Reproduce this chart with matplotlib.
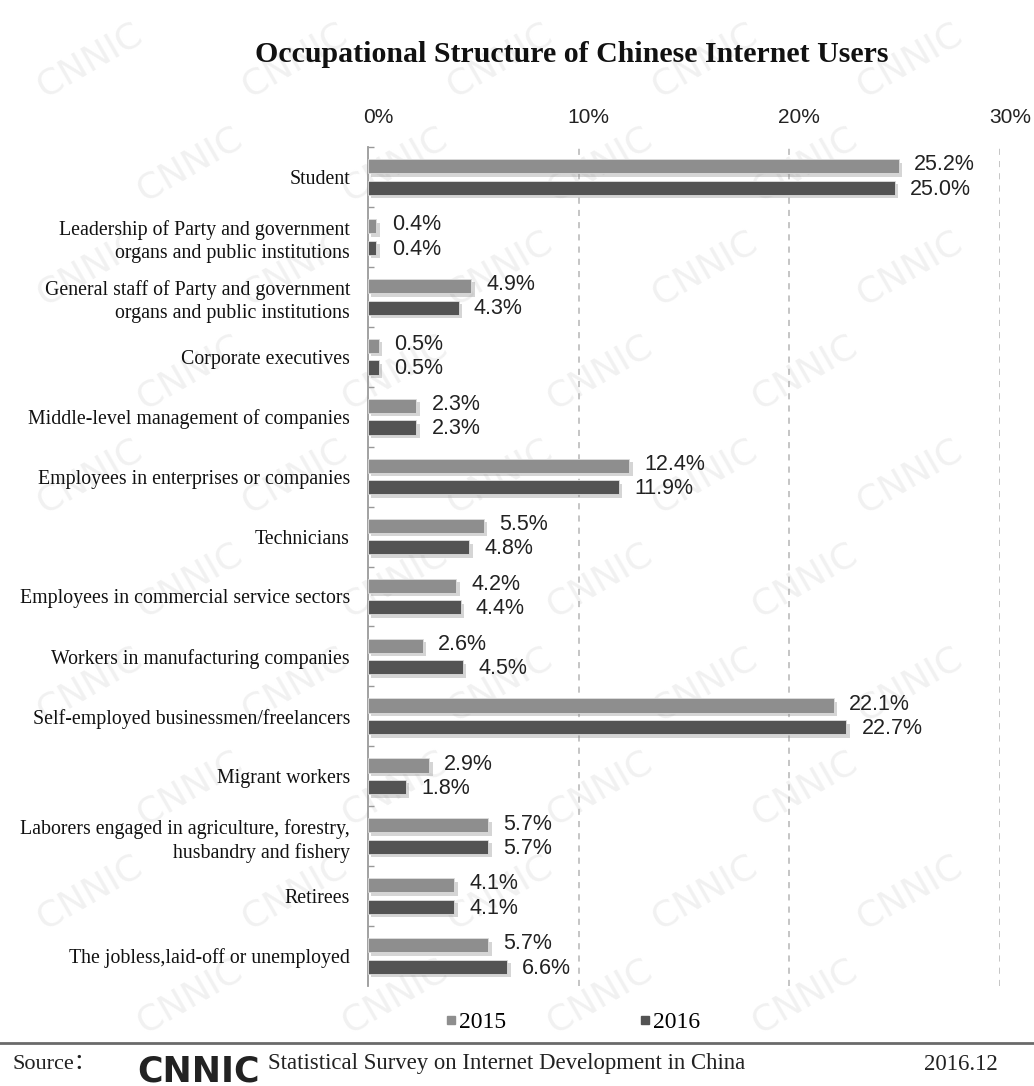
import matplotlib
matplotlib.use('Agg')
from matplotlib import pyplot as plt
from matplotlib import patheffects as pe
from matplotlib import transforms
from matplotlib.lines import Line2D

categories = [
    'Student',
    'Leadership of Party and government\norgans and public institutions',
    'General staff of Party and government\norgans and public institutions',
    'Corporate executives',
    'Middle-level management of companies',
    'Employees in enterprises or companies',
    'Technicians',
    'Employees in commercial service sectors',
    'Workers in manufacturing companies',
    'Self-employed businessmen/freelancers',
    'Migrant workers',
    'Laborers engaged in agriculture, forestry,\nhusbandry and fishery',
    'Retirees',
    'The jobless,laid-off or unemployed',
]
share_2015 = [25.2, 0.4, 4.9, 0.5, 2.3, 12.4, 5.5, 4.2, 2.6, 22.1, 2.9, 5.7, 4.1, 5.7]
share_2016 = [25.0, 0.4, 4.3, 0.5, 2.3, 11.9, 4.8, 4.4, 4.5, 22.7, 1.8, 5.7, 4.1, 6.6]
x_ticks = [0, 10, 20, 30]
x_tick_labels = ['0%', '10%', '20%', '30%']
years = ['2015', '2016']

COL_2015 = '#8e8e8e'
COL_2016 = '#535353'
SERIF = ['Liberation Serif', 'Noto Sans CJK SC']
SANS = 'Liberation Sans'

W, H = 1034, 1086
fig = plt.figure(figsize=(W / 100, H / 100), dpi=100)
fig.patch.set_facecolor('white')

# faint repeated CNNIC stamp behind everything
for row in range(10):
    for col in range(5):
        px = 90 + col * 205 + (row % 2) * 100
        py = 60 + row * 104
        if px > 960:
            continue
        fig.text(px / W, 1 - py / H, 'CNNIC', rotation=30, fontsize=26,
                 family='DejaVu Sans', color='#f1f1f1',
                 ha='center', va='center', zorder=-5)

ax = fig.add_axes([368 / W, 1 - 986 / H, (1000 - 368) / W, (986 - 147) / H])
ax.patch.set_visible(False)

n = len(categories)
pos = list(range(n))
off, bh = 0.18, 0.235
shadow = [pe.SimplePatchShadow(offset=(2.5, -2.5), shadow_rgbFace='#888888', alpha=0.35), pe.Normal()]

bars15 = ax.barh([p - off for p in pos], share_2015, height=bh, color=COL_2015,
                 edgecolor='#dddddd', linewidth=0.6, zorder=3)
bars16 = ax.barh([p + off for p in pos], share_2016, height=bh, color=COL_2016,
                 edgecolor='#dddddd', linewidth=0.6, zorder=3)
for b in list(bars15) + list(bars16):
    b.set_path_effects(shadow)

for p, v in zip(pos, share_2015):
    ax.annotate(f'{v}%', (v, p - off), xytext=(11, 1), textcoords='offset points',
                va='center', ha='left', fontsize=15.5, family=SANS, color='#222222')
for p, v in zip(pos, share_2016):
    ax.annotate(f'{v}%', (v, p + off), xytext=(11, -1), textcoords='offset points',
                va='center', ha='left', fontsize=15.5, family=SANS, color='#222222')

ax.set_xlim(0, 30)
ax.set_ylim(n - 0.5, -0.5)

# dashed vertical grid
for v in x_ticks[1:]:
    ax.axvline(v, color='#b5b5b5', linestyle=(0, (4, 4)), linewidth=1.1, zorder=1)

ax.set_xticks([])
off_tr = transforms.ScaledTranslation(10 / 100, 0, fig.dpi_scale_trans)
for v, lab in zip(x_ticks, x_tick_labels):
    ax.text(v, 1.024, lab, transform=ax.get_xaxis_transform() + off_tr,
            ha='center', va='bottom', fontsize=15, family=SANS, color='#222222')

ax.set_yticks(pos)
ax.set_yticklabels(categories, family=SERIF, fontsize=14.3, color='#111111',
                   linespacing=1.3)
ax.tick_params(axis='y', which='major', length=0, pad=13)
ax.set_yticks([p + 0.5 for p in pos[:-1]] + [-0.5], minor=True)
ax.tick_params(axis='y', which='minor', direction='in', length=4, color='#999999', width=1)

for s in ['top', 'right', 'bottom']:
    ax.spines[s].set_visible(False)
ax.spines['left'].set_color('#9a9a9a')
ax.spines['left'].set_linewidth(1.3)

fig.text(572 / W, 1 - 55 / H, 'Occupational Structure of Chinese Internet Users',
         ha='center', va='center', fontsize=21.5, fontweight='bold', family='Liberation Serif',
         color='#111111')

handles = [Line2D([], [], marker='s', linestyle='none', markersize=6, color=COL_2015),
           Line2D([], [], marker='s', linestyle='none', markersize=6, color=COL_2016)]
fig.legend(handles, years, loc='center', bbox_to_anchor=(572 / W, 1 - 1022 / H), ncol=2,
           frameon=False, prop={'family': 'Liberation Serif', 'size': 17},
           handletextpad=0.05, columnspacing=5.6, handlelength=0.6)

fig.add_artist(Line2D([0, 1], [1 - 1043 / H] * 2, color='#6a6a6a', linewidth=2))

fy = 1 - 1064 / H
fig.text(13 / W, fy, 'Source：', ha='left', va='center', fontsize=16, family=SERIF, color='#222222')
fig.text(137 / W, 1 - 1054 / H, 'CNNIC', ha='left', va='top', fontsize=25, fontweight='heavy',
         family='DejaVu Sans', color='#222222')
fig.text(268 / W, fy, 'Statistical Survey on Internet Development in China', ha='left', va='center',
         fontsize=16.4, family=SERIF, color='#222222')
fig.text(998 / W, fy, '2016.12', ha='right', va='center', fontsize=16.5, family=SERIF, color='#222222')

fig.savefig('out.png', dpi=100)
